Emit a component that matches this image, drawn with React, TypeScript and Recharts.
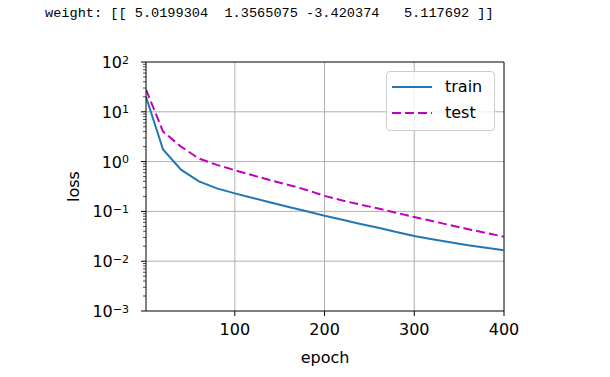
import React from "react";
import {
  LineChart, Line, XAxis, YAxis, ReferenceLine, Legend, Label,
} from "recharts";

const weightText = "weight: [[ 5.0199304  1.3565075 -3.420374   5.117692 ]]";

const epochs = [1, 20, 40, 60, 80, 100, 120, 140, 160, 180, 200, 220, 240, 260, 280, 300, 320, 340, 360, 380, 400];
const trainLoss = [20, 1.75, 0.69, 0.4, 0.29, 0.23, 0.186, 0.151, 0.123, 0.101, 0.082, 0.068, 0.056, 0.047, 0.0385, 0.032, 0.0275, 0.024, 0.021, 0.0186, 0.0166];
const testLoss = [28, 4.0, 2.0, 1.15, 0.86, 0.67, 0.53, 0.42, 0.34, 0.27, 0.205, 0.165, 0.137, 0.114, 0.094, 0.077, 0.064, 0.053, 0.044, 0.037, 0.031];

const xTicks = [100, 200, 300, 400];
const yMajorTicks = [0.001, 0.01, 0.1, 1, 10, 100];
const yMinorSteps = [2, 3, 4, 5, 6, 7, 8, 9];
const yTicks = [
  ...yMajorTicks,
  ...yMajorTicks.slice(0, -1).flatMap((m) => yMinorSteps.map((s) => m * s)),
];

const data = epochs.map((epoch, i) => ({ epoch, train: trainLoss[i], test: testLoss[i] }));

const FONT = "DejaVu Sans";
const BLUE = "#1f77b4";
const MAGENTA = "#bf00bf";
const GRID = "#b0b0b0";

function XTick({ x, y, payload }: any) {
  return (
    <g>
      <line x1={x} x2={x} y1={y} y2={y + 5} stroke="#000" strokeWidth={1} />
      <text x={x} y={y + 24} textAnchor="middle" fontSize={16} fontFamily={FONT} fill="#000">
        {payload.value}
      </text>
    </g>
  );
}

function YTick({ x, y, payload }: any) {
  const lg = Math.log10(payload.value);
  const e = Math.round(lg);
  const major = Math.abs(lg - e) < 1e-6;
  return (
    <g>
      <line x1={x} x2={x - (major ? 5 : 3)} y1={y} y2={y} stroke="#000" strokeWidth={major ? 1 : 0.7} />
      {major && (
        <text x={x - 17} y={y + 6} textAnchor="end" fontSize={16} fontFamily={FONT} fill="#000">
          10
          <tspan dy={-4.5} fontSize={11}>{e < 0 ? "\u2212" + -e : e}</tspan>
        </text>
      )}
    </g>
  );
}

function LegendBox() {
  const items = [
    { name: "train", color: BLUE, dash: undefined },
    { name: "test", color: MAGENTA, dash: "9 4" },
  ];
  return (
    <div
      style={{
        width: 107,
        height: 58,
        border: "1px solid #cccccc",
        borderRadius: 4,
        background: "rgba(255,255,255,0.8)",
        fontFamily: FONT,
        fontSize: 16,
        position: "relative",
      }}
    >
      {items.map((it, i) => (
        <div key={it.name} style={{ position: "absolute", left: 5, top: 5 + i * 26, height: 20, display: "flex", alignItems: "center" }}>
          <svg width={41} height={20}>
            <line x1={0} x2={40} y1={10} y2={10} stroke={it.color} strokeWidth={2} strokeDasharray={it.dash} />
          </svg>
          <span style={{ marginLeft: 12, lineHeight: "20px" }}>{it.name}</span>
        </div>
      ))}
    </div>
  );
}

export default function App() {
  return (
    <div style={{ position: "absolute", left: 0, top: 0, width: 610, height: 377, background: "#fff" }}>
      <div
        style={{
          position: "absolute",
          left: 45,
          top: 6,
          fontFamily: "Liberation Mono",
          fontSize: 13.6,
          lineHeight: "16px",
          whiteSpace: "pre",
          color: "#000",
        }}
      >
        {weightText}
      </div>
      <LineChart width={610} height={377} data={data} margin={{ top: 62, right: 106, bottom: 0, left: 0 }}>
        <XAxis
          dataKey="epoch"
          type="number"
          domain={[1, 400]}
          ticks={xTicks}
          allowDataOverflow
          height={66}
          tickSize={0}
          tickMargin={0}
          tickLine={false}
          tick={<XTick />}
          axisLine={{ stroke: "#000", strokeWidth: 1 }}
        >
          <Label value="epoch" position="insideBottom" offset={14} fontSize={16} fontFamily={FONT} fill="#000" />
        </XAxis>
        <YAxis
          type="number"
          scale="log"
          domain={[0.001, 100]}
          ticks={yTicks}
          interval={0}
          allowDataOverflow
          width={146}
          tickSize={0}
          tickMargin={0}
          tickLine={false}
          tick={<YTick />}
          axisLine={{ stroke: "#000", strokeWidth: 1 }}
        >
          <Label value="loss" position="center" angle={-90} fontSize={16} fontFamily={FONT} fill="#000" />
        </YAxis>
        {[100, 200, 300].map((v) => (
          <ReferenceLine key={"x" + v} x={v} stroke={GRID} strokeWidth={1} />
        ))}
        {[0.01, 0.1, 1, 10].map((v) => (
          <ReferenceLine key={"y" + v} y={v} stroke={GRID} strokeWidth={1} />
        ))}
        <ReferenceLine y={100} stroke="#000" strokeWidth={1} />
        <ReferenceLine x={400} stroke="#000" strokeWidth={1} />
        <Line dataKey="train" name="train" stroke={BLUE} strokeWidth={2} dot={false} isAnimationActive={false} />
        <Line dataKey="test" name="test" stroke={MAGENTA} strokeWidth={2} strokeDasharray="9 4" dot={false} isAnimationActive={false} />
        <Legend
          layout="horizontal"
          verticalAlign="middle"
          align="center"
          content={() => <LegendBox />}
          wrapperStyle={{ position: "absolute", left: 386, top: 71, width: 109, height: 60 }}
        />
      </LineChart>
    </div>
  );
}
